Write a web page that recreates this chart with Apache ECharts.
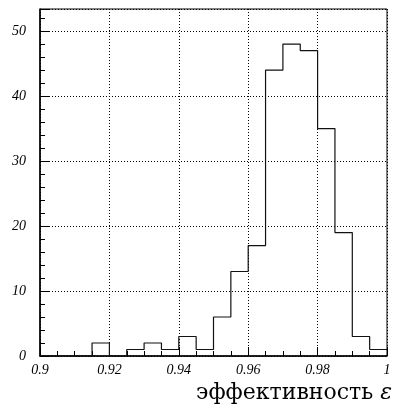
<!DOCTYPE html>
<html>
<head>
<meta charset="utf-8">
<script src="https://cdn.jsdelivr.net/npm/echarts@6/dist/echarts.min.js"></script>
<style>
html,body{margin:0;padding:0;background:#fff;}
#chart{width:398px;height:409px;}
</style>
</head>
<body>
<div id="chart"></div>
<script>
// Bin left edges (efficiency) and counts per bin
var binEdges = [0.900,0.905,0.910,0.915,0.920,0.925,0.930,0.935,0.940,0.945,
                0.950,0.955,0.960,0.965,0.970,0.975,0.980,0.985,0.990,0.995,1.000];
var counts   = [0,0,0,2,0,1,2,1,3,1,6,13,17,44,48,47,35,19,3,1];
var xTicks = [0.9,0.92,0.94,0.96,0.98,1];
var yTicks = [0,10,20,30,40,50];
var xTitle = 'эффективность ';
var xSymbol = 'ε';

var stepData = [];
for (var i = 0; i < counts.length; i++) stepData.push([binEdges[i], counts[i]]);
stepData.push([binEdges[binEdges.length-1], counts[counts.length-1]]);

var SERIF = 'Liberation Serif';
var TITLE_FONT = 'DejaVu Serif';
var chart = echarts.init(document.getElementById('chart'));
var labelFont = {fontFamily:SERIF, fontStyle:'italic', fontSize:14, color:'#000'};
chart.setOption({
  animation:false,
  backgroundColor:'#fff',
  grid:{left:40, right:11, top:9, bottom:53, show:true, borderColor:'#000', borderWidth:1},
  xAxis:{
    type:'value', min:0.9, max:1.0, interval:0.02,
    axisLine:{show:true, onZero:false, lineStyle:{color:'#000', width:1.5}},
    axisTick:{show:true, inside:true, length:9, lineStyle:{color:'#000'}},
    minorTick:{show:true, splitNumber:4, length:5, lineStyle:{color:'#000'}},
    splitLine:{show:true, lineStyle:{color:'#000', type:[1,2], width:1}},
    axisLabel:Object.assign({margin:7, formatter:function(v){
      for (var k=0;k<xTicks.length;k++) if (Math.abs(v-xTicks[k])<1e-9) return String(xTicks[k]);
      return '';
    }}, labelFont)
  },
  yAxis:{
    type:'value', min:0, max:53.4, interval:10,
    axisLine:{show:true, lineStyle:{color:'#000', width:1.5}},
    axisTick:{show:true, inside:true, length:9, lineStyle:{color:'#000'}},
    minorTick:{show:true, splitNumber:5, length:5, lineStyle:{color:'#000'}},
    splitLine:{show:true, lineStyle:{color:'#000', type:[1,2], width:1}},
    axisLabel:Object.assign({margin:14, showMaxLabel:false, formatter:function(v){
      for (var k=0;k<yTicks.length;k++) if (Math.abs(v-yTicks[k])<1e-9) return String(yTicks[k]);
      return '';
    }}, labelFont)
  },
  series:[{
    type:'line', step:'end', data:stepData, symbol:'none',
    lineStyle:{color:'#111', width:1.2}, z:5
  }],
  graphic:[{
    type:'text', right:6, top:382,
    style:{
      text:'{a|' + xTitle + '}{b|' + xSymbol + '}',
      rich:{
        a:{fontFamily:TITLE_FONT, fontSize:22, fill:'#000', color:'#000'},
        b:{fontFamily:TITLE_FONT, fontStyle:'italic', fontSize:22, fill:'#000', color:'#000'}
      }
    }
  }]
});
</script>
</body>
</html>
